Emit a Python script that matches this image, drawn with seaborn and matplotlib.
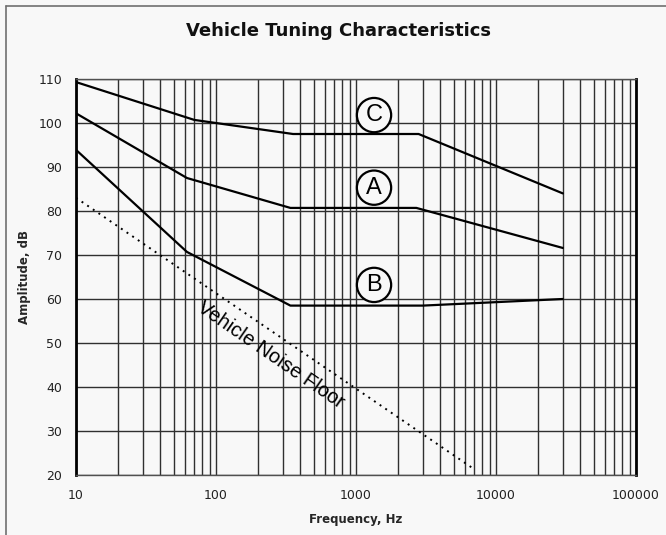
import numpy as np
import pandas as pd
import matplotlib
matplotlib.use("Agg")
import matplotlib.pyplot as plt
from matplotlib.lines import Line2D
import seaborn as sns

# Data
freq_C = [10, 70, 355, 2800, 30000]
amp_C = [109.3, 100.7, 97.5, 97.5, 84.0]
freq_A = [10, 62, 340, 2700, 30000]
amp_A = [102.2, 87.5, 80.7, 80.7, 71.6]
freq_B = [10, 62, 340, 3000, 30000]
amp_B = [93.9, 70.7, 58.5, 58.5, 60.0]
freq_noise = [10, 7000]
amp_noise = [83.0, 21.3]

curve_labels = ["C", "A", "B"]
label_freq = [1345, 1345, 1345]
label_amp = [101.8, 85.3, 63.2]

y_ticks = [20, 30, 40, 50, 60, 70, 80, 90, 100, 110]
x_ticks = [10, 100, 1000, 10000, 100000]
x_tick_labels = ["10", "100", "1000", "10000", "100000"]

BG = "#f8f8f8"
sns.set_theme(style="white")
plt.rcParams["font.family"] = ["DejaVu Sans"]

fig = plt.figure(figsize=(6.66, 5.35), dpi=100, facecolor=BG)
ax = fig.add_axes([76 / 666, 1 - 475 / 535, (636 - 76) / 666, (475 - 79) / 535])
ax.set_facecolor(BG)

frames = []
for name, f, a in [("C", freq_C, amp_C), ("A", freq_A, amp_A), ("B", freq_B, amp_B)]:
    frames.append(pd.DataFrame({"freq": f, "amp": a, "curve": name}))
df = pd.concat(frames, ignore_index=True)

sns.lineplot(data=df, x="freq", y="amp", units="curve", estimator=None,
             color="black", lw=1.6, ax=ax, sort=False, zorder=4)
sns.lineplot(x=freq_noise, y=amp_noise, color="black", lw=1.4, ax=ax,
             linestyle=(0, (1, 2.5)), zorder=4)

ax.set_xscale("log")
ax.set_xlim(10, 100000)
ax.set_ylim(20, 110)
ax.set_xticks(x_ticks)
ax.set_xticklabels(x_tick_labels)
ax.set_yticks(y_ticks)
ax.xaxis.set_minor_locator(matplotlib.ticker.LogLocator(base=10, subs=np.arange(2, 10)))
ax.xaxis.set_minor_formatter(matplotlib.ticker.NullFormatter())

ax.grid(True, which="major", axis="both", color="#303030", lw=1.0)
ax.grid(True, which="minor", axis="x", color="#303030", lw=1.0)
ax.set_axisbelow(True)

ax.tick_params(axis="both", which="major", direction="out", length=4, width=1,
               color="#303030", labelsize=9, labelcolor="#222222", pad=6)
ax.tick_params(axis="x", which="minor", length=0)

for side in ["top", "bottom"]:
    ax.spines[side].set_color("#505050")
    ax.spines[side].set_linewidth(1.0)
for side in ["left", "right"]:
    ax.spines[side].set_color("black")
    ax.spines[side].set_linewidth(2.0)

ax.set_xlabel("Frequency, Hz", fontsize=8.5, fontweight="bold", labelpad=8)
ax.set_ylabel("Amplitude, dB", fontsize=8.5, fontweight="bold", labelpad=5)

fig.text(338 / 666, 1 - 31 / 535, "Vehicle Tuning Characteristics",
         ha="center", va="center", fontsize=13, fontweight="bold", color="#111111")

for lab, fx, ay in zip(curve_labels, label_freq, label_amp):
    ax.text(fx, ay, lab, ha="center", va="center", fontsize=17,
            family="Liberation Sans", color="black", zorder=6,
            bbox=dict(boxstyle="circle,pad=0.26", fc=BG, ec="black", lw=1.6))

ax.text(245, 47.2, "Vehicle Noise Floor", ha="center", va="center",
        rotation=-34.6, rotation_mode="anchor", fontsize=14.5,
        family="Liberation Sans", color="black", zorder=6)

# outer chart border (left and top visible)
fig.add_artist(Line2D([5.5 / 666, 5.5 / 666], [0, 1 - 5.5 / 535], transform=fig.transFigure,
                      color="#707070", lw=1.2))
fig.add_artist(Line2D([5.5 / 666, 1], [1 - 5.5 / 535, 1 - 5.5 / 535], transform=fig.transFigure,
                      color="#707070", lw=1.2))

fig.savefig("out.png", dpi=100, facecolor=BG)
